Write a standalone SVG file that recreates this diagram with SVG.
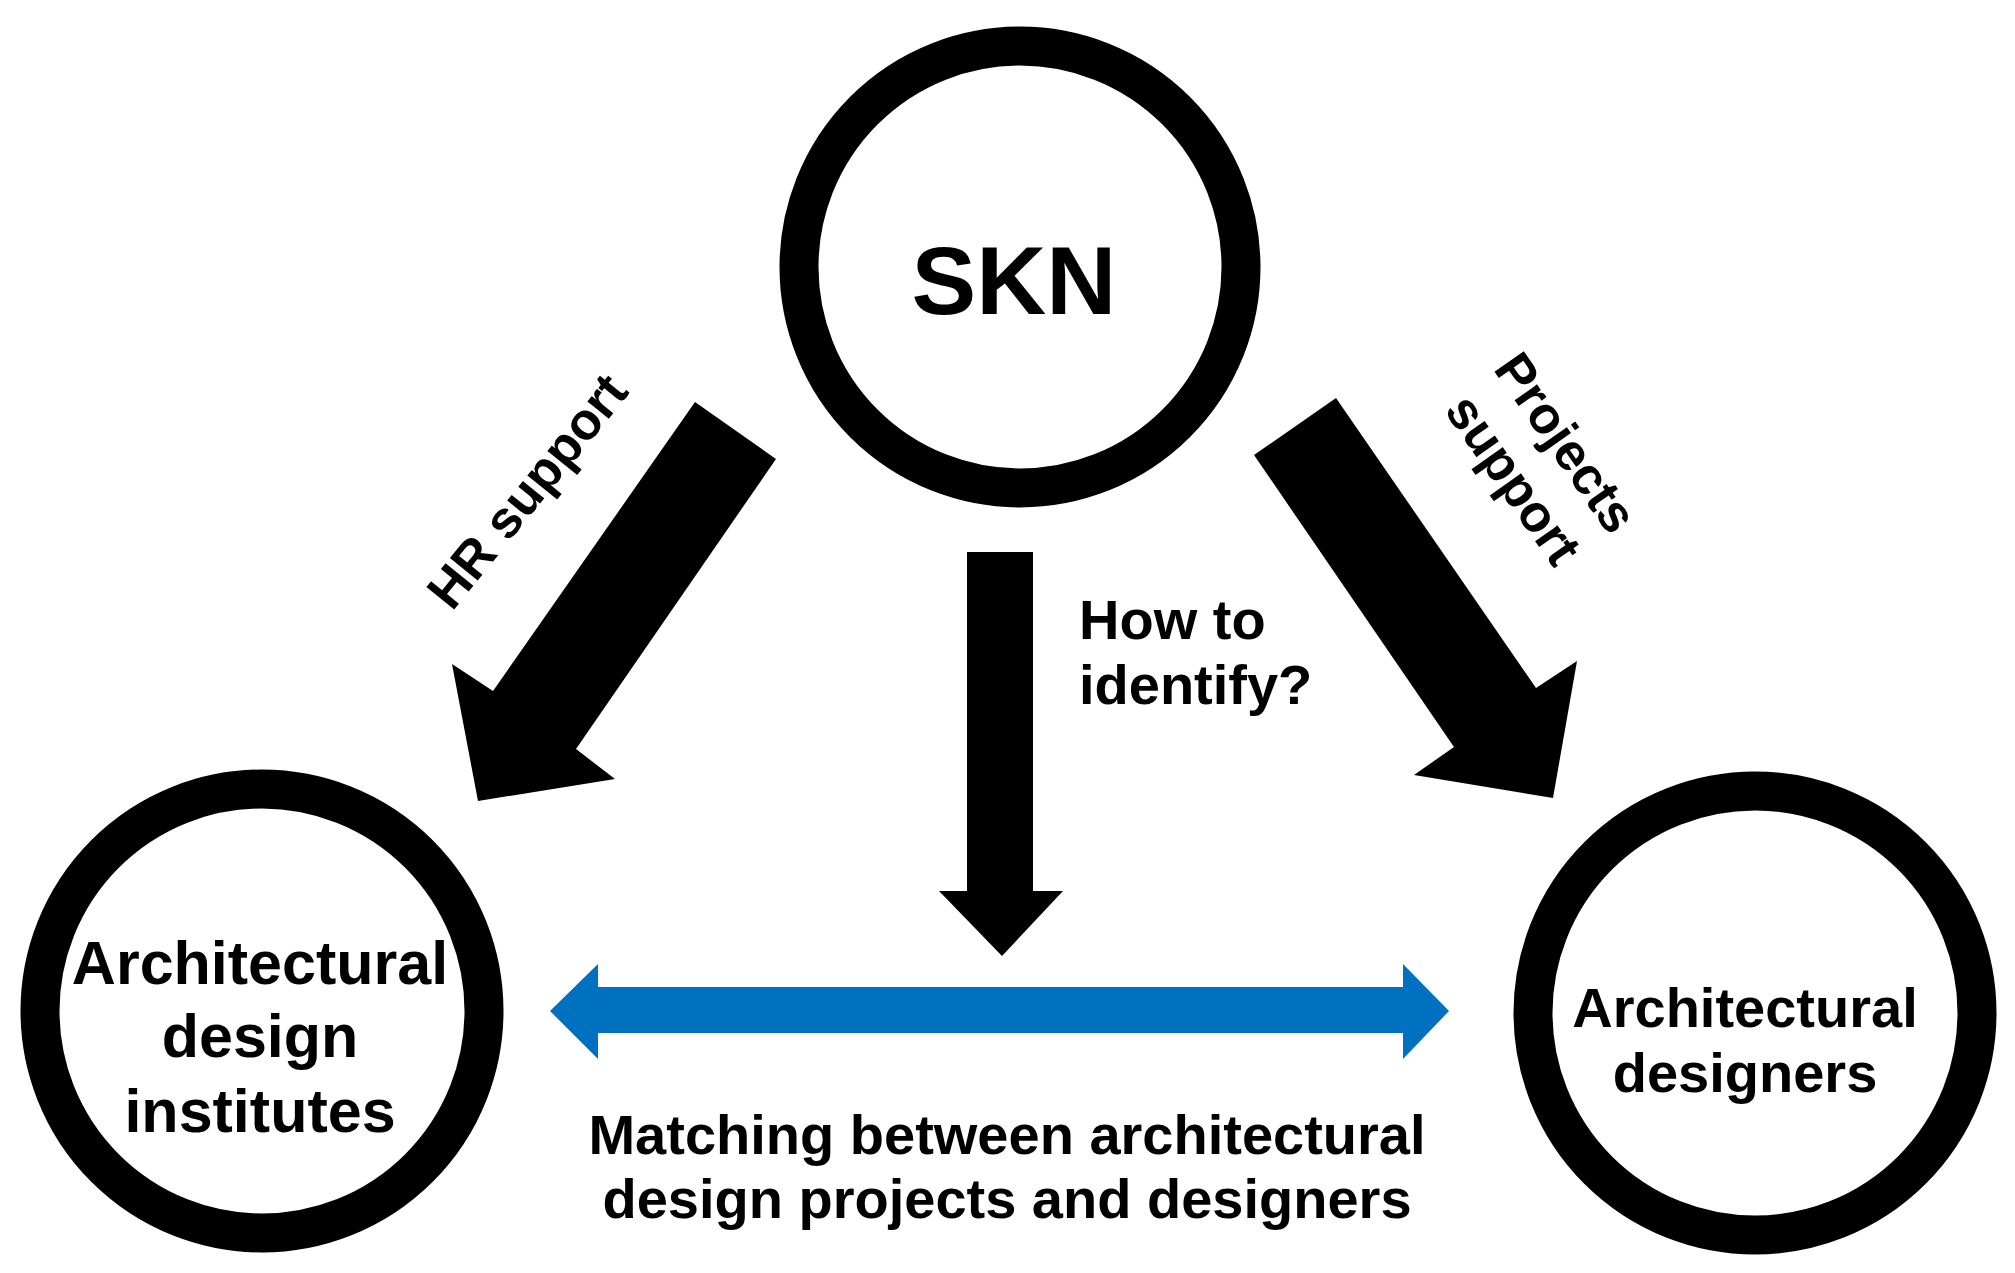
<svg xmlns="http://www.w3.org/2000/svg" width="2015" height="1273" viewBox="0 0 2015 1273">
<style>
.c{fill:#fff;stroke:#000;stroke-width:39}
.t{font-family:"Liberation Sans",Arial,sans-serif;font-weight:bold;fill:#000;text-anchor:middle}
</style>
<rect width="2015" height="1273" fill="#fff"/>
<g id="connectors">
<polygon points="967,552 1033,552 1033,891 1063,891 1002,956 939,891 967,891"/>
<polygon fill="#0070C0" points="550,1011 598,964 598,987 1403,987 1403,964 1449,1011 1403,1059 1403,1033 598,1033 598,1059"/>
<polygon points="695,402 776,459 576,749 615,779 478,801 452,664 493,691"/>
<polygon points="1336,398 1536,688 1577,661 1553,798 1414,775 1454,747 1254,455"/>
<text class="t" font-size="52" transform="translate(527,491) rotate(-51)" y="18">HR support</text>
<g transform="translate(1540,461) rotate(55)"><text class="t" font-size="52" y="-14">Projects</text><text class="t" font-size="52" y="50">support</text></g>
<text class="t" font-size="56" x="1079" y="639" style="text-anchor:start">How to</text>
<text class="t" font-size="56" x="1079" y="704" style="text-anchor:start">identify?</text>
<text class="t" font-size="56" x="1007" y="1154">Matching between architectural</text>
<text class="t" font-size="56" x="1007" y="1218">design projects and designers</text>
</g>
<g id="skn"><circle class="c" cx="1020" cy="267" r="221"/><text class="t" font-size="97" x="1014" y="314">SKN</text></g>
<g id="institutes"><circle class="c" cx="262" cy="1011" r="222"/>
<text class="t" font-size="61" x="260" y="984">Architectural</text>
<text class="t" font-size="61" x="260" y="1057">design</text>
<text class="t" font-size="61" x="260" y="1132">institutes</text></g>
<g id="designers"><circle class="c" cx="1755" cy="1013" r="222"/>
<text class="t" font-size="56" x="1745" y="1027">Architectural</text>
<text class="t" font-size="56" x="1745" y="1092">designers</text></g>
</svg>
